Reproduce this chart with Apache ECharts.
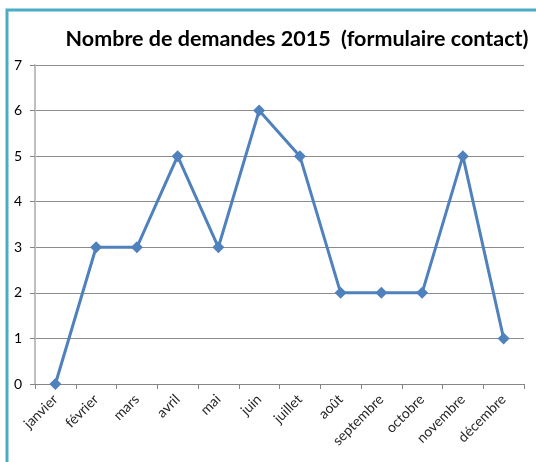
<!DOCTYPE html>
<html>
<head>
<meta charset="utf-8">
<script src="https://cdn.jsdelivr.net/npm/echarts@6/dist/echarts.min.js"></script>
<style>
  html, body { margin: 0; padding: 0; background: #fff; }
  #main { width: 536px; height: 462px; }
</style>
</head>
<body>
<div id="main"></div>
<script>
// mois et nombre de demandes
var mois = ['janvier', 'février', 'mars', 'avril', 'mai', 'juin', 'juillet', 'août', 'septembre', 'octobre', 'novembre', 'décembre'];
var demandes = [0, 3, 3, 5, 3, 6, 5, 2, 2, 2, 5, 1];
var yTicks = [0, 7, 1]; // min, max, pas

var chart = echarts.init(document.getElementById('main'));
var option = {
  backgroundColor: '#fff',
  animation: false,
  textStyle: { fontFamily: 'Lato' },
  title: {
    text: 'Nombre de demandes 2015  (formulaire contact)',
    left: 292,
    top: 23,
    textAlign: 'center',
    textStyle: { fontSize: 21.5, fontWeight: 'bold', color: '#000', fontFamily: 'Lato' }
  },
  graphic: [{
    type: 'polyline',
    shape: { points: [[7, 462], [7, 10], [536, 10]] },
    style: { stroke: '#4BACC6', lineWidth: 3, fill: null }
  }],
  grid: { left: 35, right: 12, top: 65, bottom: 78 },
  xAxis: {
    type: 'category',
    data: mois,
    axisLine: { lineStyle: { color: '#868686' } },
    axisTick: { show: true, length: 5, lineStyle: { color: '#868686' } },
    axisLabel: { rotate: 45, color: '#262626', fontSize: 14, margin: 13 }
  },
  yAxis: {
    type: 'value',
    min: yTicks[0],
    max: yTicks[1],
    interval: yTicks[2],
    axisLine: { show: true, lineStyle: { color: '#BFBFBF', width: 2 } },
    axisTick: { show: true, length: 5, lineStyle: { color: '#868686' } },
    axisLabel: { color: '#000', fontSize: 14, margin: 13 },
    splitLine: { lineStyle: { color: '#8C8C8C' } }
  },
  series: [{
    name: 'demandes',
    type: 'line',
    data: demandes,
    symbol: 'diamond',
    symbolSize: 12,
    lineStyle: { color: '#4F81BD', width: 3 },
    itemStyle: { color: '#4F81BD' }
  }]
};
chart.setOption(option);
</script>
</body>
</html>
